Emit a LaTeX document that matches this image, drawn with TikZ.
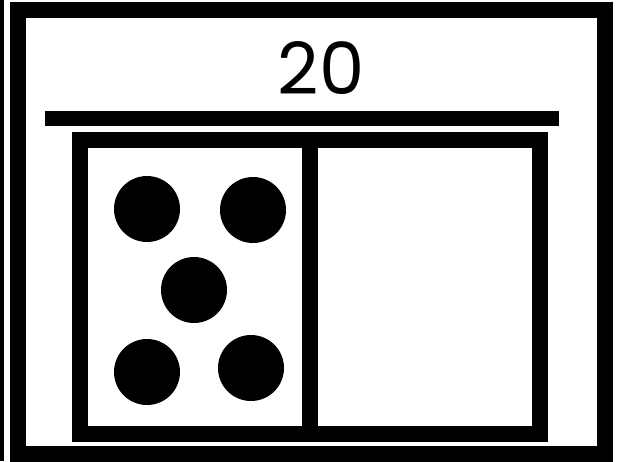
\documentclass[tikz,border=0pt]{standalone}
\usepackage{fontspec}
\setmainfont{Poppins}
\usetikzlibrary{positioning}

\begin{document}
\begin{tikzpicture}[x=1pt,y=-1pt,
   frame/.style={draw,line width=16pt},
   counter/.style={circle,fill,inner sep=0pt,minimum size=66pt},
   total/.style={font=\fontsize{72}{80}\selectfont}]
  \useasboundingbox (0,0) rectangle (617,461);
  \fill (0,0) rectangle (4,461);
  \draw[frame] (18,10) rectangle (605,454);
  \node[total](sum) at (321,68){20};
  \fill (45,111) rectangle (559,126);
  \draw[frame] (80,140) rectangle (540,434);
  \draw[frame] (310,132) -- (310,442);
  \node[counter](c1) at (147,209){};
  \node[counter](c2) at (253,210){};
  \node[counter](c3) at (194,290){};
  \node[counter](c4) at (147,372){};
  \node[counter](c5) at (251,368){};
\end{tikzpicture}
\end{document}
